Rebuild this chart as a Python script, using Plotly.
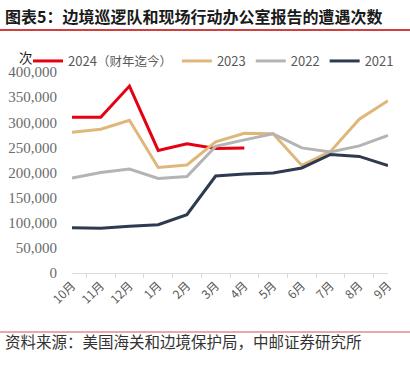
import plotly.graph_objects as go

months = ["10月", "11月", "12月", "1月", "2月", "3月", "4月", "5月", "6月", "7月", "8月", "9月"]
s2024 = [310000, 310000, 372000, 244000, 257000, 248000, 249000]
s2023 = [280000, 286000, 304000, 210000, 215000, 261000, 278000, 277000, 214000, 242000, 306000, 343000]
s2022 = [189000, 200000, 207000, 188000, 192000, 252000, 265000, 277000, 249000, 241000, 253000, 274000]
s2021 = [90000, 89000, 93000, 96000, 116000, 193000, 197000, 199000, 209000, 236000, 232000, 214000]

names = ["2024<span style='font-size:12.5px'>（财年迄今）</span>", "2023", "2022", "2021"]
colors = ["#E60012", "#E0B77A", "#B4B4B4", "#2E3A50"]
series = [s2024, s2023, s2022, s2021]

W, H = 410, 365
L, R, T, B = 72, 22, 72, 92
PW, PH = W - L - R, H - T - B


def px(x):
    return (x - L) / PW


def py(y):
    return (H - B - y) / PH


fig = go.Figure()
for nm, col, vals in zip(names, colors, series):
    fig.add_trace(go.Scatter(x=months[:len(vals)], y=vals, name=nm, mode="lines",
                             line=dict(color=col, width=3)))

fig.update_layout(
    width=W, height=H,
    margin=dict(l=L, r=R, t=T, b=B, autoexpand=False),
    paper_bgcolor="white", plot_bgcolor="white",
    showlegend=True,
    legend=dict(orientation="h", x=px(28), xanchor="left", y=py(61), yanchor="middle",
                xref="paper", yref="paper",
                font=dict(family="Noto Sans CJK SC", size=13, color="#595959"),
                itemwidth=30, tracegroupgap=0, bgcolor="rgba(0,0,0,0)"),
    font=dict(family="Noto Sans CJK SC", color="#595959"),
)
fig.update_xaxes(type="category", categoryorder="array", categoryarray=months,
                 showline=True, linecolor="#D9D9D9", linewidth=1, automargin=False,
                 ticks="outside", tickson="boundaries", ticklen=4, tickcolor="#D9D9D9",
                 tickangle=-45, tickfont=dict(family="Noto Sans CJK SC", size=12, color="#595959"),
                 showgrid=False, zeroline=False)
fig.update_yaxes(range=[0, 400000], dtick=50000, tickformat=",", showgrid=False, automargin=False,
                 zeroline=False, showline=False, ticks="", ticklabelstandoff=14,
                 tickfont=dict(family="Liberation Serif, Times New Roman, serif", size=15, color="#6b6b6b"))

fig.add_annotation(text="<b>图表5：边境巡逻队和现场行动办公室报告的遭遇次数</b>", xref="paper", yref="paper",
                   x=px(3), y=py(16), xanchor="left", yanchor="middle", showarrow=False,
                   font=dict(family="Noto Sans CJK SC", size=16, color="#1a1a1a"))
fig.add_annotation(text="次", xref="paper", yref="paper",
                   x=px(26), y=py(57), xanchor="center", yanchor="middle", showarrow=False,
                   font=dict(family="Noto Sans CJK SC", size=13.5, color="#1a1a1a"))
fig.add_annotation(text="资料来源：美国海关和边境保护局，中邮证券研究所", xref="paper", yref="paper",
                   x=px(3), y=py(341), xanchor="left", yanchor="middle", showarrow=False,
                   font=dict(family="Noto Sans CJK SC", size=15.5, color="#333333"))
fig.add_shape(type="line", xref="paper", yref="paper", x0=px(0), x1=px(W),
              y0=py(30), y1=py(30), line=dict(color="#C00000", width=1.5))
fig.add_shape(type="line", xref="paper", yref="paper", x0=px(0), x1=px(W),
              y0=py(332), y1=py(332), line=dict(color="#E38C8C", width=1.5))

fig.write_html("out.html", config={"displayModeBar": False},
               post_script="document.body.style.margin='0';document.body.style.padding='0';")
